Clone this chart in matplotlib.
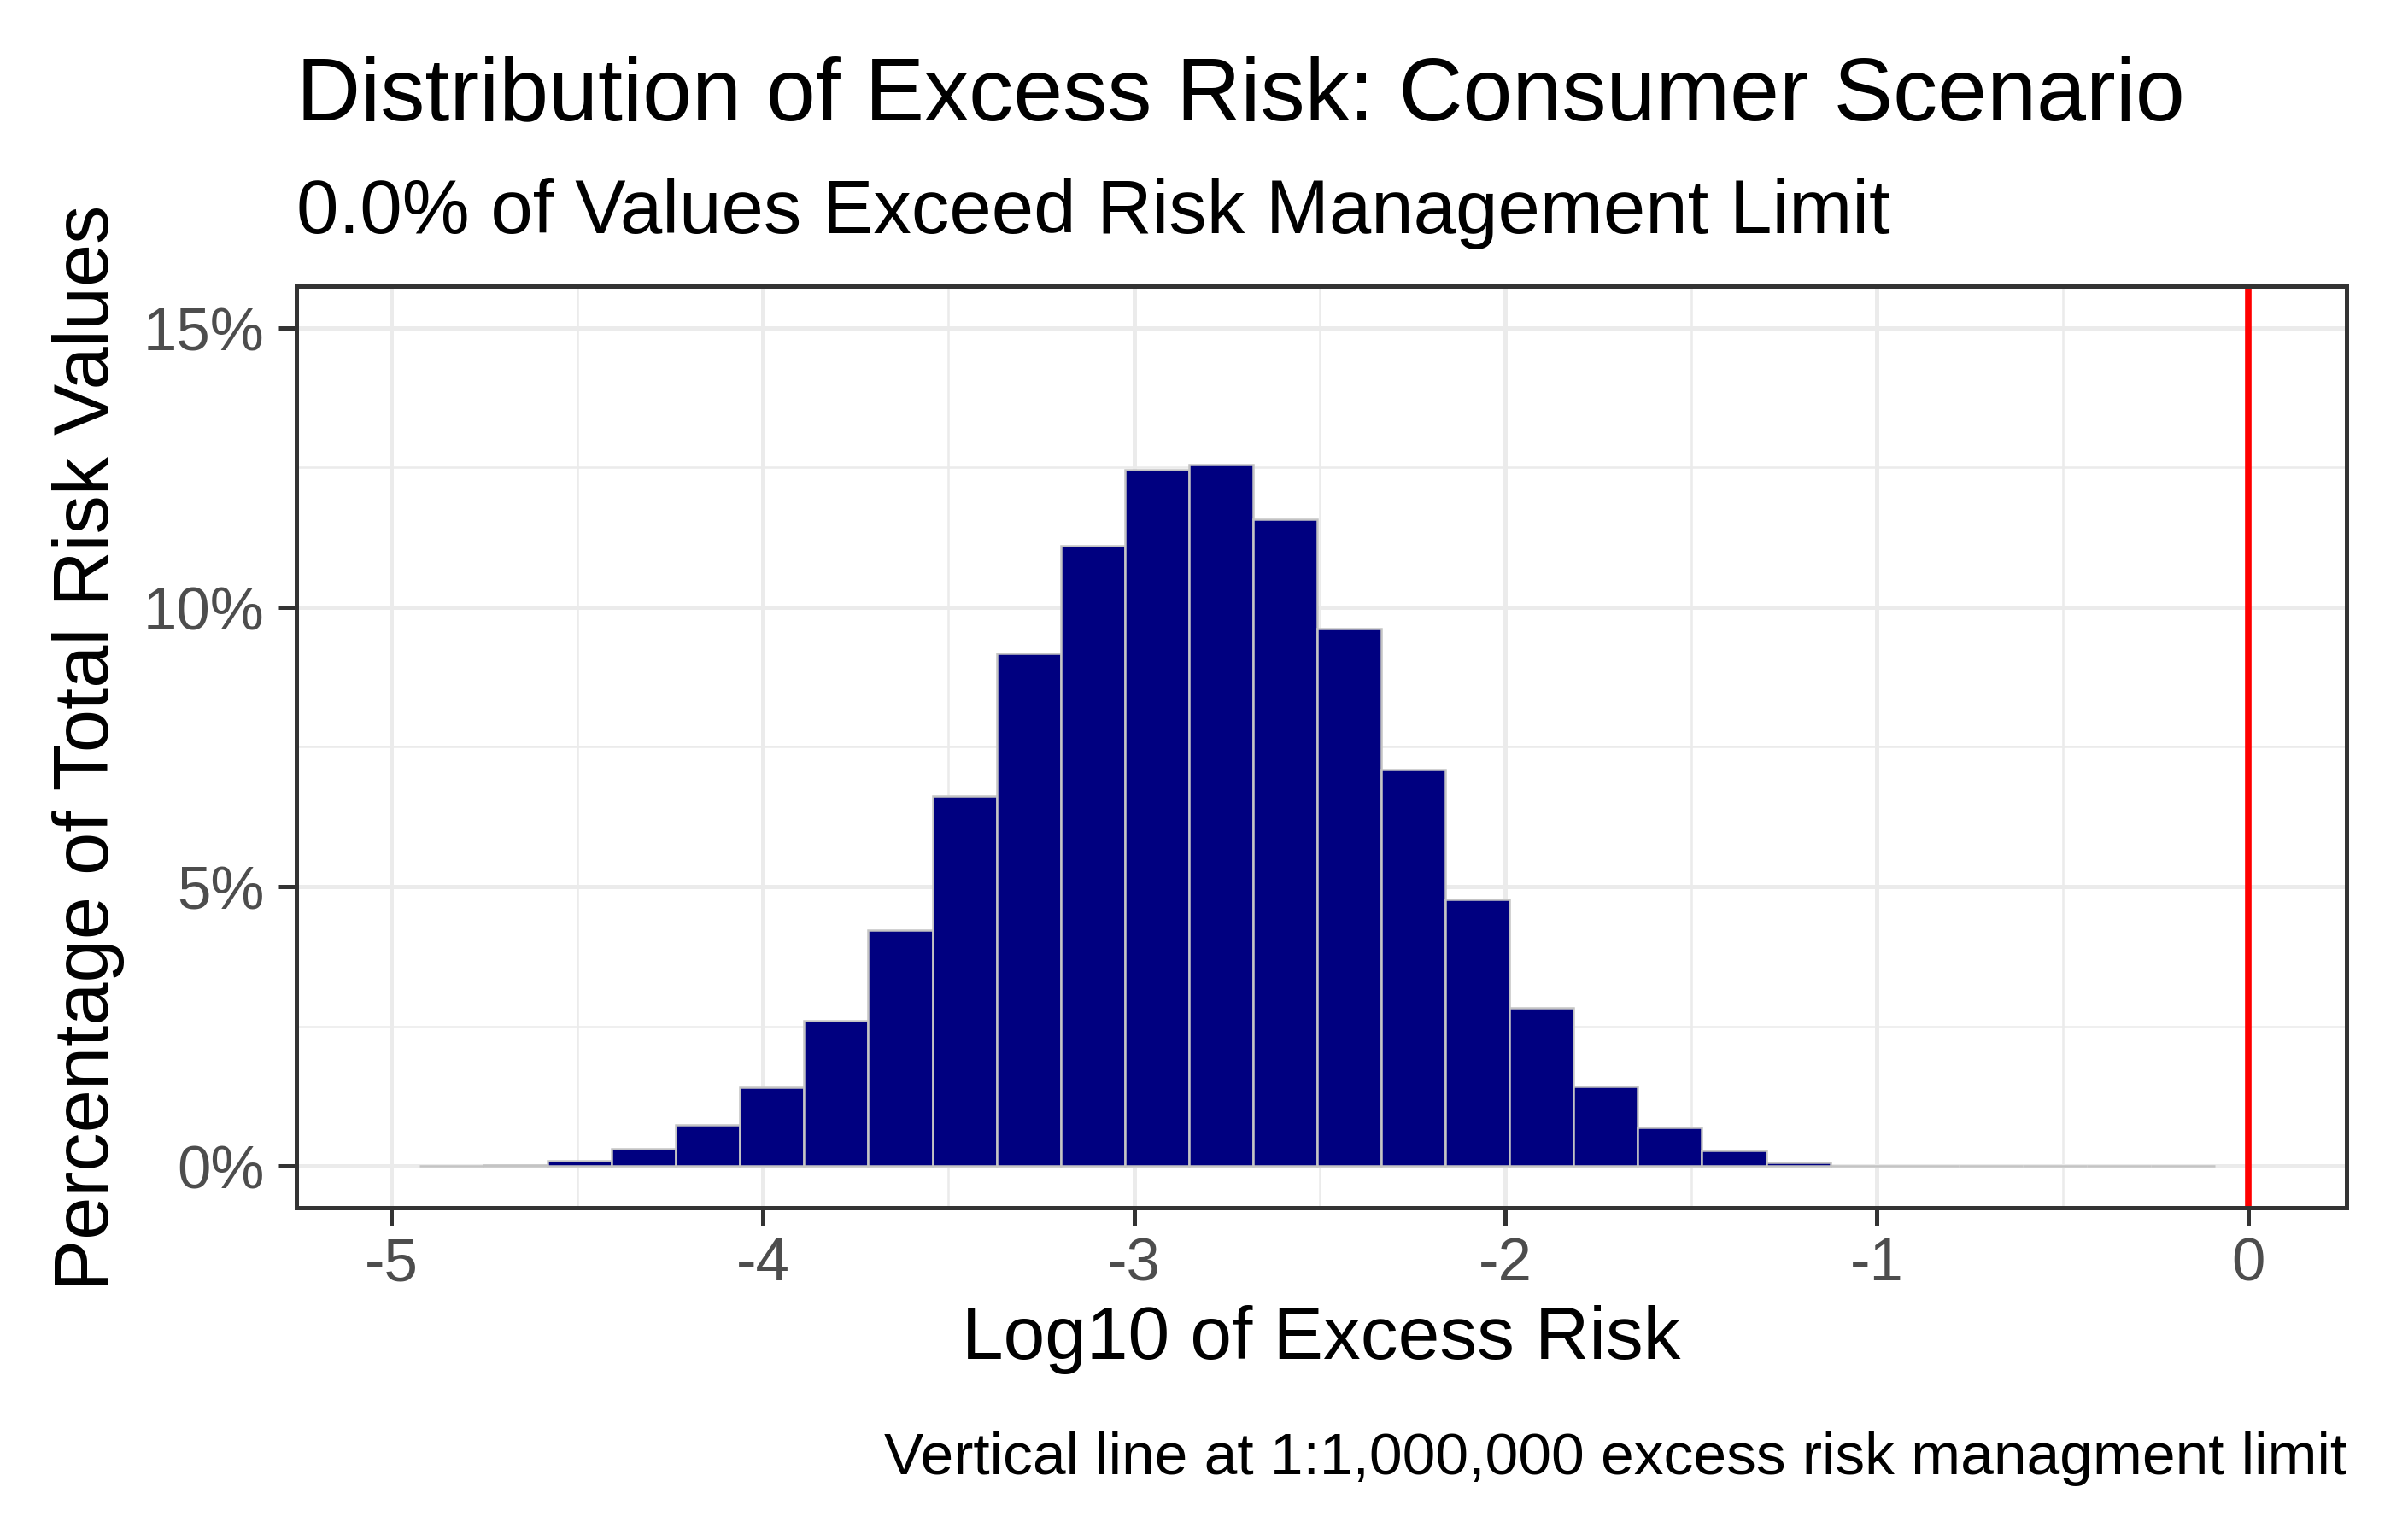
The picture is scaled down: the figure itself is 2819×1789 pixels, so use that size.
import matplotlib
matplotlib.use("Agg")
import matplotlib.pyplot as plt
import matplotlib.ticker as mtick
import numpy as np

# histogram of log10 excess risk, percent of values per bin
bin_start = -4.925
bin_width = 0.1727
pct_values = [
    0.0, 0.02, 0.10, 0.31, 0.74, 1.41, 2.61, 4.23, 6.62, 9.18, 11.10,
    12.45, 12.55, 11.57, 9.62, 7.09, 4.78, 2.83, 1.43, 0.69, 0.28, 0.07,
    0.0, 0.0, 0.0, 0.0, 0.0, 0.0,
]
limit_log10 = 0.0
x_ticks = [-5, -4, -3, -2, -1, 0]
y_ticks = [0, 5, 10, 15]

title = "Distribution of Excess Risk: Consumer Scenario"
subtitle = "0.0% of Values Exceed Risk Management Limit"
caption = "Vertical line at 1:1,000,000 excess risk managment limit"

plt.rcParams["font.family"] = ["Liberation Sans", "DejaVu Sans"]

fig = plt.figure(figsize=(28.19, 17.90), dpi=100)
fig.patch.set_facecolor("white")
ax = fig.add_axes([0.1231, 0.2095, 0.9745 - 0.1231, 0.8123 - 0.2095])

edges = bin_start + bin_width * np.arange(len(pct_values))
ax.bar(edges, pct_values, width=bin_width, align="edge",
       color="#000080", edgecolor="#c4c4c4", linewidth=1.8, zorder=3)
ax.axvline(limit_log10, color="#ff0000", linewidth=5.5, zorder=4)

ax.set_xlim(-5.256, 0.265)
ax.set_ylim(-0.742, 15.742)
ax.set_xticks(x_ticks)
ax.set_xticks(np.arange(-4.5, 0, 1.0), minor=True)
ax.set_yticks(y_ticks)
ax.set_yticks([2.5, 7.5, 12.5], minor=True)
ax.yaxis.set_major_formatter(mtick.FuncFormatter(lambda v, p: f"{v:.0f}%"))
ax.xaxis.set_major_formatter(mtick.FuncFormatter(lambda v, p: f"{v:.0f}".replace("\u2212", "-")))

ax.grid(which="major", color="#ebebeb", linewidth=3.6, zorder=0)
ax.grid(which="minor", color="#ebebeb", linewidth=1.8, zorder=0)
ax.set_axisbelow(True)

for s in ax.spines.values():
    s.set_color("#333333")
    s.set_linewidth(3.6)
    s.set_zorder(5)

ax.tick_params(which="major", length=15, width=3.6, color="#333333",
               labelsize=51, labelcolor="#4d4d4d")
ax.tick_params(axis="x", pad=9)
ax.tick_params(axis="y", pad=12)
ax.tick_params(which="minor", length=0)

ax.set_xlabel("Log10 of Excess Risk", fontsize=63, labelpad=10)
ax.set_ylabel("Percentage of Total Risk Values", fontsize=65, labelpad=16)

fig.text(0.1231, 0.9218, title, fontsize=75, va="baseline", ha="left")
fig.text(0.1231, 0.8473, subtitle, fontsize=64, va="baseline", ha="left")
fig.text(0.9745, 0.0357, caption, fontsize=50, va="baseline", ha="right")

fig.savefig("out.png", dpi=100)
